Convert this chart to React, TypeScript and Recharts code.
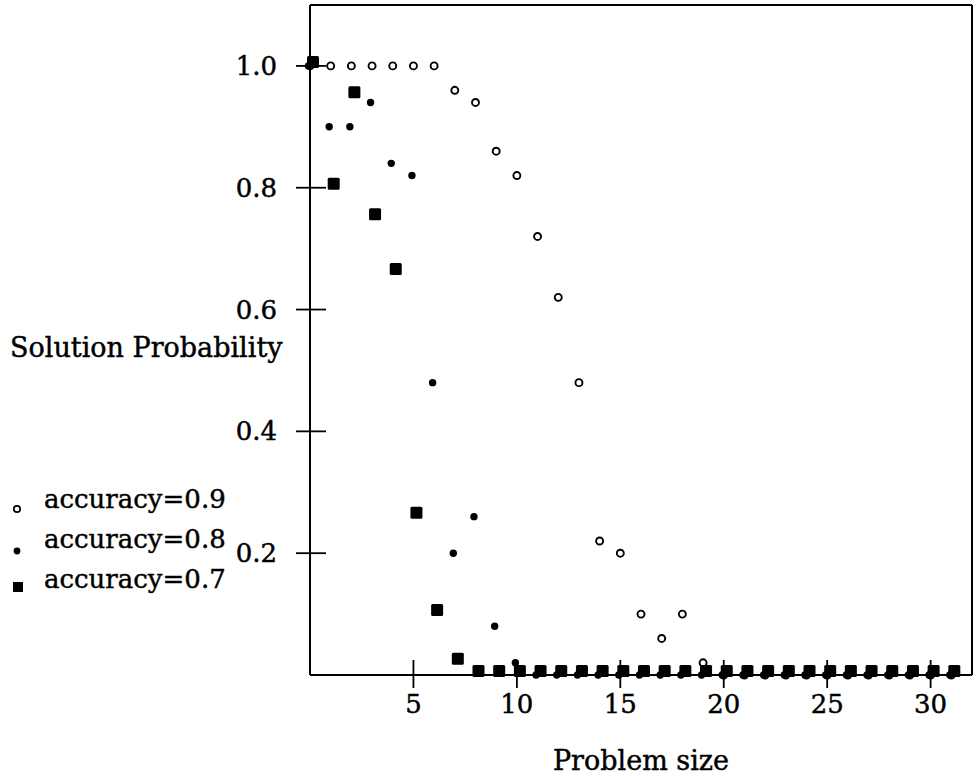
import { ScatterChart, Scatter, XAxis, YAxis, ReferenceLine } from 'recharts'

const FONT = '"DejaVu Serif", serif'

const problemSizes = [0, 1, 2, 3, 4, 5, 6, 7, 8, 9, 10, 11, 12, 13, 14, 15, 16, 17, 18, 19, 20, 21, 22, 23, 24, 25, 26, 27, 28, 29, 30, 31]
const acc09 = [1, 1, 1, 1, 1, 1, 1, 0.96, 0.94, 0.86, 0.82, 0.72, 0.62, 0.48, 0.22, 0.2, 0.1, 0.06, 0.1, 0.02, 0, 0, 0, 0, 0, 0, 0, 0, 0, 0, 0, 0]
const acc08 = [1, 0.9, 0.9, 0.94, 0.84, 0.82, 0.48, 0.2, 0.26, 0.08, 0.02, 0, 0, 0, 0, 0, 0, 0, 0, 0, 0, 0, 0, 0, 0, 0, 0, 0, 0, 0, 0, 0]
const acc07 = [1, 0.8, 0.95, 0.75, 0.66, 0.26, 0.1, 0.02, 0, 0, 0, 0, 0, 0, 0, 0, 0, 0, 0, 0, 0, 0, 0, 0, 0, 0, 0, 0, 0, 0, 0, 0]

const xTicks = [5, 10, 15, 20, 25, 30]
const yTicks = [0.2, 0.4, 0.6, 0.8, 1.0]
const seriesNames = ['accuracy=0.9', 'accuracy=0.8', 'accuracy=0.7']

const toPoints = (vals: number[]) => problemSizes.map((x, i) => ({ x, y: vals[i] }))

// scanned original: text a bit heavier than plain DejaVu
const TEXT_STROKE = { stroke: '#000', strokeWidth: 0.45 }

const OpenCircle = (p: any) => <circle cx={p.cx} cy={p.cy} r={3.5} fill="#fff" stroke="#000" strokeWidth={1.9} />
const Dot = (p: any) => <circle cx={p.cx - 1.5} cy={p.cy} r={3.7} fill="#000" />
// squares in the original sit a little up and right of their value
const Square = (p: any) => <rect x={p.cx + 3 - 6} y={p.cy - 4 - 6} width={12} height={12} rx={1.5} fill="#000" />

const YTick = (p: any) => (
  <g>
    <line x1={p.x - 14} x2={p.x + 16} y1={p.y} y2={p.y} stroke="#000" strokeWidth={1.8} />
    <text x={p.x - 33} y={p.y + 9} textAnchor="end" fontFamily={FONT} fontSize={26} fill="#000" {...TEXT_STROKE}>
      {p.payload.value.toFixed(1)}
    </text>
  </g>
)

const XTick = (p: any) => (
  <g>
    <line x1={p.x} x2={p.x} y1={p.y - 15} y2={p.y + 13} stroke="#000" strokeWidth={1.8} />
    <text x={p.x} y={p.y + 38} textAnchor="middle" fontFamily={FONT} fontSize={26} fill="#000" {...TEXT_STROKE}>
      {p.payload.value}
    </text>
  </g>
)

const LegendBox = () => (
  <svg width={260} height={120} style={{ position: 'absolute', left: 0, top: 480 }}>
    <circle cx={17} cy={29} r={3.2} fill="#fff" stroke="#000" strokeWidth={1.7} />
    <circle cx={17} cy={71} r={3.4} fill="#000" />
    <rect x={13} y={102} width={10} height={10} fill="#000" />
    {seriesNames.map((n, i) => (
      <text key={n} x={44} y={28 + i * 40} fontFamily={FONT} fontSize={26} fill="#000" {...TEXT_STROKE}>
        {n}
      </text>
    ))}
  </svg>
)

const titleStyle = {
  position: 'absolute' as const,
  fontFamily: FONT,
  fontSize: 27,
  lineHeight: '32px',
  whiteSpace: 'nowrap' as const,
  WebkitTextStroke: '0.45px #000',
}

export default function App() {
  return (
    <div style={{ position: 'absolute', left: 0, top: 0, width: 979, height: 777, background: '#fff' }}>
      <ScatterChart width={979} height={777} margin={{ top: 5, right: 7, left: 309, bottom: 101 }}>
        <XAxis
          type="number"
          dataKey="x"
          domain={[0, 32]}
          ticks={xTicks}
          height={1}
          tickSize={0}
          tickMargin={0}
          tickLine={false}
          axisLine={{ stroke: '#000', strokeWidth: 2 }}
          tick={<XTick />}
          interval={0}
        />
        <YAxis
          type="number"
          dataKey="y"
          domain={[0, 1.1]}
          ticks={yTicks}
          width={1}
          tickSize={0}
          tickMargin={0}
          tickLine={false}
          axisLine={{ stroke: '#000', strokeWidth: 2 }}
          tick={<YTick />}
          interval={0}
        />
        <ReferenceLine y={1.1} stroke="#000" strokeWidth={2} />
        <ReferenceLine x={32} stroke="#000" strokeWidth={2} />
        <Scatter name={seriesNames[0]} data={toPoints(acc09)} shape={OpenCircle} isAnimationActive={false} />
        <Scatter name={seriesNames[1]} data={toPoints(acc08)} shape={Dot} isAnimationActive={false} />
        <Scatter name={seriesNames[2]} data={toPoints(acc07)} shape={Square} isAnimationActive={false} />
      </ScatterChart>
      <LegendBox />
      <div style={{ ...titleStyle, left: 10, top: 332 }}>Solution Probability</div>
      <div style={{ ...titleStyle, left: 310, width: 662, top: 745, textAlign: 'center' }}>Problem size</div>
    </div>
  )
}
